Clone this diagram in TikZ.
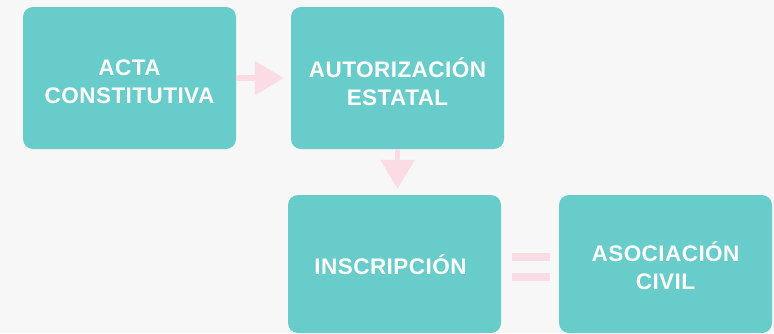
\documentclass[tikz,border=0pt]{standalone}
\usepackage{fontspec}
\setmainfont{Liberation Sans}[LetterSpace=2]
\usetikzlibrary{arrows.meta}
\definecolor{teal1}{HTML}{68CDCA}
\definecolor{pink1}{HTML}{FBDCE5}
\definecolor{bg}{HTML}{F7F7F7}
\begin{document}
\begin{tikzpicture}[x=1pt,y=-1pt,
  box/.style={fill=teal1, rounded corners=10pt, inner sep=0pt},
  bigbox/.style={box, minimum width=213pt, minimum height=142pt},
  lowbox/.style={box, minimum width=213pt, minimum height=138pt},
  txt/.style={text=white, inner sep=0pt,
    font=\fontsize{22.5}{28}\selectfont\bfseries, align=center},
  conn/.style={draw=pink1, line width=5.5pt, -{Triangle[width=33pt,length=29pt,fill=pink1]}},
  eqbar/.style={draw=pink1, line width=8pt}]
\fill[bg] (0,0) rectangle (774,333);
\useasboundingbox (0,0) rectangle (774,333);
\node[bigbox] (a) at (129.5,78) {};
\node[bigbox] (b) at (397.5,78) {};
\node[lowbox] (c) at (394.5,264) {};
\node[lowbox] (d) at (665.5,264) {};
\node[txt] (ta) at (129.5,82) {ACTA\\CONSTITUTIVA};
\node[txt] (tb) at (397.5,82) {AUTORIZACIÓN\\ESTATAL};
\node[txt] (tc) at (390.5,265) {INSCRIPCIÓN};
\node[txt] (td) at (665.5,266) {ASOCIACIÓN\\CIVIL};
\draw[conn, shorten >=7pt] (a.east) -- (a.east -| b.west);
\draw[conn, shorten >=6pt] (b.south) -- (b.south |- c.north);
\draw[eqbar] ([xshift=11pt,yshift=7pt]c.east) -- ([xshift=-9pt,yshift=7pt]d.west);
\draw[eqbar] ([xshift=11pt,yshift=-13pt]c.east) -- ([xshift=-9pt,yshift=-13pt]d.west);
\end{tikzpicture}
\end{document}
